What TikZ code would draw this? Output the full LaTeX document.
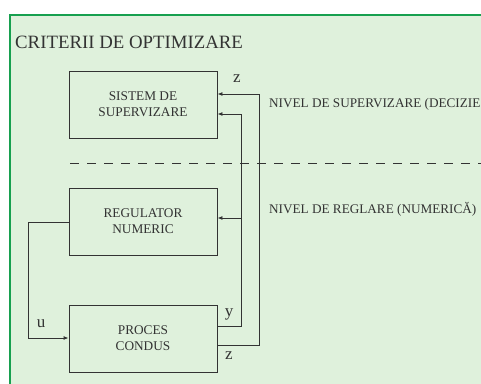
\documentclass[tikz,border=0pt]{standalone}
\usepackage{fontspec}
\setmainfont{Liberation Serif}
\usetikzlibrary{arrows.meta}
\definecolor{bgfill}{HTML}{DFF1DC}
\definecolor{bgedge}{HTML}{17A04F}
\definecolor{ink}{HTML}{333333}
\begin{document}
\begin{tikzpicture}[x=1pt,y=-1pt,
  blk/.style={draw=ink, line width=0.9pt, minimum width=148pt, minimum height=67pt, inner sep=0pt, align=center, font=\fontsize{13.3}{16}\selectfont, text=ink},
  conn/.style={draw=ink, line width=0.9pt},
  arr/.style={conn, -{Latex[length=5pt,width=4pt]}},
  lbl/.style={font=\fontsize{17}{18}\selectfont, text=ink, inner sep=0pt},
  side/.style={font=\fontsize{13.2}{16}\selectfont, text=ink, inner sep=0pt, anchor=west}]
\useasboundingbox (0,0) rectangle (481,383);
\clip (0,0) rectangle (481,383);
\fill[white] (0,0) rectangle (481,383);
\draw[fill=bgfill, draw=bgedge, line width=2pt] (10,15.3) -- (485,15.3) -- (485,390) -- (10,390) -- cycle;
\node[font=\fontsize{18.8}{22}\selectfont, text=ink, anchor=base west, inner sep=0pt] (title) at (15,48) {CRITERII DE OPTIMIZARE};
\node[blk] (sis) at (143,104.5) {SISTEM DE\\SUPERVIZARE};
\node[blk] (reg) at (143,221.5) {REGULATOR\\NUMERIC};
\node[blk] (pro) at (143,338.5) {PROCES\\CONDUS};
\coordinate (dl) at (70,163);
\coordinate (dr) at (490,163);
\draw[conn, dash pattern=on 9pt off 8pt] (dl) -- (dr);
\coordinate (y1) at (241,326);
\coordinate (z1) at (259,345);
% y feedback
\draw[conn] (pro.east |- y1) -- (y1) -- (241,114);
\draw[arr] (241,114) -- (sis.east |- 0,114);
\draw[arr] (241,218) -- (reg.east |- 0,218);
% z feedback
\draw[arr] (pro.east |- z1) -- (z1) -- (259,94) -- (sis.east |- 0,94);
% u
\draw[arr] (reg.west |- 0,222) -- (28,222) -- (28,338) -- (pro.west |- 0,338);
\node[lbl] (zt) at (237,79) {z};
\node[lbl] (yt) at (229,314) {y};
\node[lbl] (zb) at (229,356) {z};
\node[lbl] (ut) at (41,324) {u};
\node[side] (s1) at (269,104) {NIVEL DE SUPERVIZARE (DECIZIE};
\node[side] (s2) at (269,209) {NIVEL DE REGLARE (NUMERICĂ)};
\end{tikzpicture}
\end{document}
